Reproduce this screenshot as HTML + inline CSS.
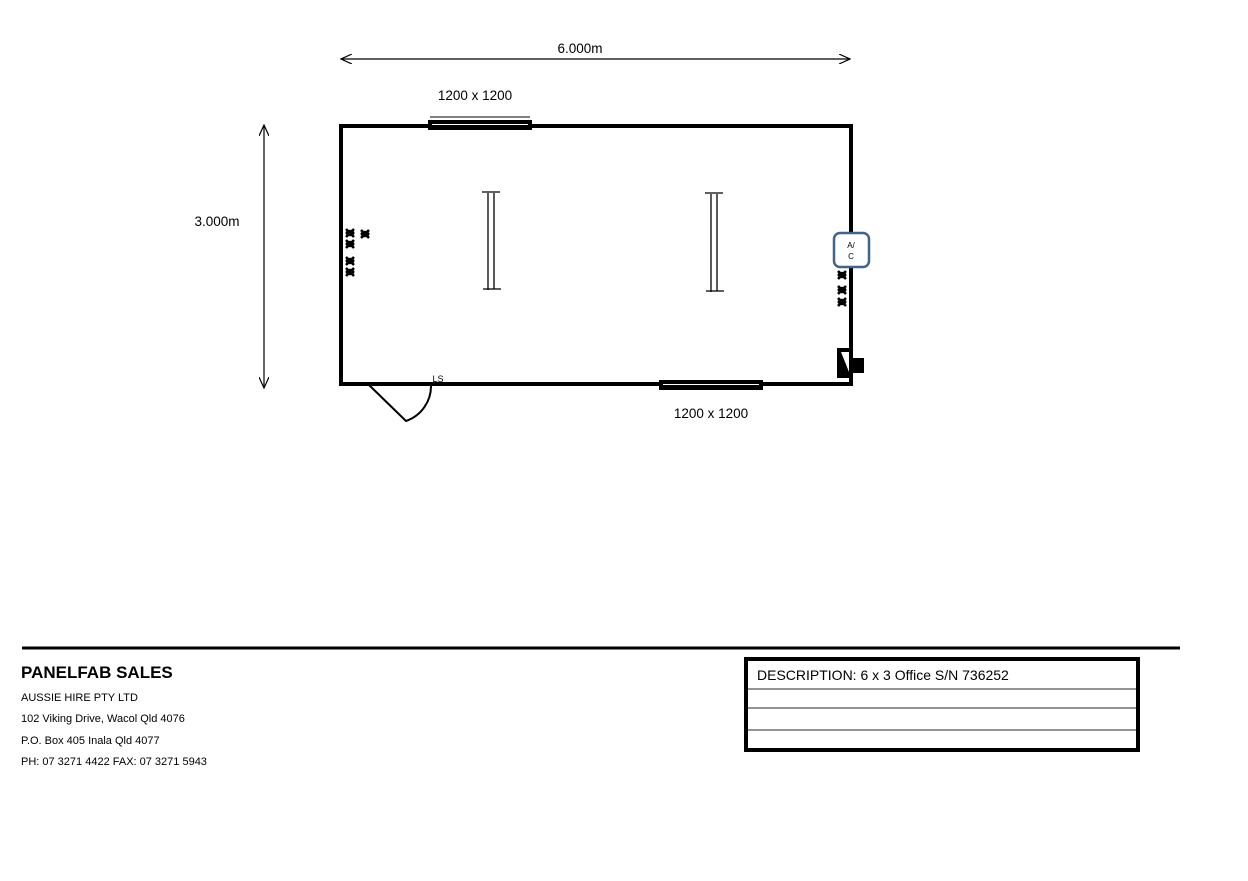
<!DOCTYPE html>
<html><head><style>
body{margin:0;background:#fff;}
svg{display:block;font-family:"Liberation Sans",sans-serif;}
</style></head><body>
<svg width="1248" height="881" viewBox="0 0 1248 881">
<defs><marker id="a" markerWidth="12" markerHeight="10" refX="11" refY="5" orient="auto-start-reverse" markerUnits="userSpaceOnUse"><path d="M0,0 L11,5 L0,10" fill="none" stroke="#000" stroke-width="1.2"/></marker>
<g id="o"><ellipse cx="0" cy="0" rx="4.5" ry="3.2" fill="#000"/><path d="M-4,-4 L4,4 M4,-4 L-4,4" stroke="#000" stroke-width="2.6"/></g></defs>
<!-- dims -->
<line x1="341" y1="59" x2="850" y2="59" stroke="#000" stroke-width="1.2" marker-start="url(#a)" marker-end="url(#a)"/>
<text x="580" y="53" font-size="13.5" text-anchor="middle">6.000m</text>
<line x1="264" y1="125" x2="264" y2="388" stroke="#000" stroke-width="1.2" marker-start="url(#a)" marker-end="url(#a)"/>
<text x="217" y="226" font-size="13.5" text-anchor="middle">3.000m</text>
<!-- room -->
<rect x="341" y="126" width="510" height="258" fill="none" stroke="#000" stroke-width="4"/>
<!-- top window -->
<line x1="430" y1="117" x2="530" y2="117" stroke="#000" stroke-width="1"/>
<rect x="428" y="120" width="104" height="10" fill="#000"/>
<line x1="432" y1="124.5" x2="528" y2="124.5" stroke="#fff" stroke-width="0.9"/>
<text x="475" y="100" font-size="13.5" text-anchor="middle">1200 x 1200</text>
<!-- bottom window -->
<rect x="659" y="380" width="104" height="10" fill="#000"/>
<line x1="663" y1="384.5" x2="759" y2="384.5" stroke="#fff" stroke-width="0.9"/>
<text x="711" y="418" font-size="13.5" text-anchor="middle">1200 x 1200</text>
<!-- lights -->
<g stroke="#000" stroke-width="1.3">
<line x1="482" y1="192" x2="500" y2="192"/><line x1="483" y1="289" x2="501" y2="289"/>
<line x1="488" y1="193" x2="488" y2="290"/><line x1="494" y1="193" x2="494" y2="289"/>
<line x1="705" y1="193" x2="723" y2="193"/><line x1="706" y1="291" x2="724" y2="291"/>
<line x1="711" y1="194" x2="711" y2="292"/><line x1="717" y1="194" x2="717" y2="291"/>
</g>
<!-- outlets -->
<use href="#o" x="350" y="233"/><use href="#o" x="365" y="234"/>
<use href="#o" x="350" y="244"/><use href="#o" x="350" y="261"/><use href="#o" x="350" y="272"/>
<use href="#o" x="842" y="275"/><use href="#o" x="842" y="290"/><use href="#o" x="842" y="302"/>
<!-- A/C -->
<rect x="834" y="233" width="35" height="34" rx="6" fill="#fff" stroke="#41648e" stroke-width="2.5"/>
<text x="851" y="248" font-size="8" text-anchor="middle">A/</text>
<text x="851" y="259" font-size="8" text-anchor="middle">C</text>
<!-- right bottom fixture -->
<rect x="837" y="348" width="13" height="30" fill="#000"/>
<path d="M841,352 L849,352 L849,372 Z" fill="#fff"/>
<rect x="851" y="358" width="13" height="15" fill="#000"/>
<!-- door -->
<path d="M369,385 L406,421 A37,37 0 0 0 431,385" fill="none" stroke="#000" stroke-width="2"/>
<text x="438" y="382" font-size="9" text-anchor="middle">LS</text>
<!-- footer -->
<line x1="22" y1="648" x2="1180" y2="648" stroke="#000" stroke-width="3"/>
<text x="21" y="678" font-size="17" font-weight="bold">PANELFAB SALES</text>
<g font-size="11">
<text x="21" y="701">AUSSIE HIRE PTY LTD</text>
<text x="21" y="722">102 Viking Drive, Wacol Qld 4076</text>
<text x="21" y="744">P.O. Box 405 Inala Qld 4077</text>
<text x="21" y="765">PH: 07 3271 4422 FAX: 07 3271 5943</text>
</g>
<rect x="746" y="659" width="392" height="91" fill="none" stroke="#000" stroke-width="4"/>
<g stroke="#555" stroke-width="1.3">
<line x1="748" y1="689" x2="1136" y2="689"/><line x1="748" y1="708" x2="1136" y2="708"/><line x1="748" y1="730" x2="1136" y2="730"/>
</g>
<text x="757" y="680" font-size="14">DESCRIPTION: 6 x 3 Office S/N 736252</text>
</svg>
</body></html>
